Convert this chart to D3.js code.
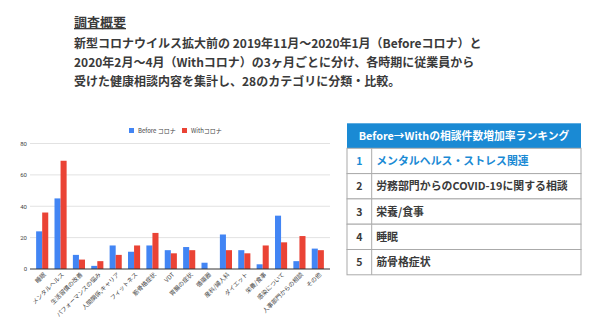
<!DOCTYPE html>
<html><head><meta charset="utf-8">
<script src="https://cdn.jsdelivr.net/npm/d3@7"></script>
<style>body{margin:0;background:#fff;}svg{display:block;}</style>
</head><body>
<svg id="c" width="600" height="323"></svg>
<script>
const categories = ["睡眠","メンタルヘルス","生活習慣の改善","パフォーマンスの悩み","人間関係,キャリア","フィットネス","筋骨格症状","VDT","胃腸の症状","循環器","産科/婦人科","ダイエット","栄養/食事","感染について","人事部門からの相談","その他"];
const beforeValues = [24,45,9,2,15,11,15,12,14,4,22,12,3,34,5,13];
const withValues   = [36,69,6,5,9,15,23,10,12,0,12,10,15,17,21,12];
const seriesNames = ["Before コロナ","Withコロナ"];
const yTicks = [0,20,40,60,80];
const titleText = "調査概要";
const descLines = ["新型コロナウイルス拡大前の 2019年11月～2020年1月（Beforeコロナ）と","2020年2月～4月（Withコロナ）の3ヶ月ごとに分け、各時期に従業員から","受けた健康相談内容を集計し、28のカテゴリに分類・比較。"];
const rankTitle = "Before→Withの相談件数増加率ランキング";
const rankItems = ["メンタルヘルス・ストレス関連","労務部門からのCOVID-19に関する相談","栄養/食事","睡眠","筋骨格症状"];

const svg = d3.select("#c");
const jp = "'Noto Sans CJK JP','Noto Sans',sans-serif";
const colors = ["#4285f4","#ea4335"];

// header text
svg.append("text").attr("x",74).attr("y",27).attr("font-family",jp).attr("font-weight",700)
  .attr("font-size",13).attr("fill","#3a3a3a").attr("text-decoration","underline").text(titleText);
descLines.forEach((t,i)=>{
  svg.append("text").attr("x",74).attr("y",48+i*19).attr("font-family",jp).attr("font-weight",700)
    .attr("font-size",12).attr("fill","#3a3a3a").text(t);
});

// chart
const x0 = d3.scaleBand().domain(categories).range([33,327]).paddingInner(0.34).paddingOuter(0.17);
const x1 = d3.scaleBand().domain([0,1]).range([0,x0.bandwidth()]);
const y = d3.scaleLinear().domain([0,80]).range([269,143.5]);

const g = svg.append("g");
g.selectAll("line.grid").data(yTicks.slice(1)).join("line")
  .attr("x1",30).attr("x2",330).attr("y1",d=>y(d)).attr("y2",d=>y(d))
  .attr("stroke","#e2e2e2").attr("stroke-width",1);
const yAxis = d3.axisLeft(y).tickValues(yTicks).tickSize(0).tickPadding(0);
const ya = g.append("g").attr("transform","translate(27,0)").call(yAxis);
ya.select(".domain").remove();
ya.selectAll("text").attr("font-family","Roboto,Arial,sans-serif").attr("font-size",6).attr("fill","#444");

const grp = g.selectAll("g.cat").data(categories).join("g").attr("transform",d=>`translate(${x0(d)},0)`);
grp.selectAll("rect").data((d,i)=>[beforeValues[i],withValues[i]]).join("rect")
  .attr("x",(d,j)=>x1(j)).attr("width",x1.bandwidth())
  .attr("y",d=>y(d)).attr("height",d=>y(0)-y(d)).attr("fill",(d,j)=>colors[j]);

g.append("line").attr("x1",30).attr("x2",330).attr("y1",y(0)).attr("y2",y(0)).attr("stroke","#333").attr("stroke-width",1);

const xAxis = d3.axisBottom(x0).tickSize(0).tickPadding(0);
const xa = g.append("g").attr("transform",`translate(0,${y(0)})`).call(xAxis);
xa.select(".domain").remove();
xa.selectAll("text").attr("font-family",jp).attr("font-size",6).attr("fill","#444")
  .attr("text-anchor","end").attr("dy",0).attr("transform","translate(4,6) rotate(-45)");

// legend
const leg = svg.append("g").attr("font-family",jp).attr("font-size",6).attr("fill","#444");
const legX = [129,182];
seriesNames.forEach((n,i)=>{
  leg.append("rect").attr("x",legX[i]).attr("y",128).attr("width",5).attr("height",5).attr("fill",colors[i]);
  leg.append("text").attr("x",legX[i]+9).attr("y",133).text(n);
});

// ranking table
const tx=347, tw=234, hy=123.3, hh=25, rh=25.3, divX=371.7;
svg.append("rect").attr("x",tx).attr("y",hy).attr("width",tw).attr("height",hh).attr("fill","#1a8ad4");
svg.append("text").attr("x",tx+tw/2).attr("y",hy+hh/2+4).attr("text-anchor","middle").attr("font-family",jp)
  .attr("font-weight",700).attr("font-size",10.8).attr("fill","#fff").text(rankTitle);
const rows = svg.append("g");
rankItems.forEach((t,i)=>{
  const ry = hy+hh+i*rh;
  rows.append("rect").attr("x",tx).attr("y",ry).attr("width",tw).attr("height",rh).attr("fill","#fff").attr("stroke","#aaaaaa").attr("stroke-width",1);
  rows.append("line").attr("x1",divX).attr("x2",divX).attr("y1",ry).attr("y2",ry+rh).attr("stroke","#aaaaaa");
  const col = i===0 ? "#1a8ad4" : "#3a3a3a";
  rows.append("text").attr("x",(tx+divX)/2).attr("y",ry+rh/2+4).attr("text-anchor","middle").attr("font-family",jp)
    .attr("font-weight",700).attr("font-size",10.5).attr("fill",col).text(i+1);
  rows.append("text").attr("x",divX+4.5).attr("y",ry+rh/2+4).attr("font-family",jp)
    .attr("font-weight",700).attr("font-size",10.9).attr("fill",col).text(t);
});
</script>
</body></html>
